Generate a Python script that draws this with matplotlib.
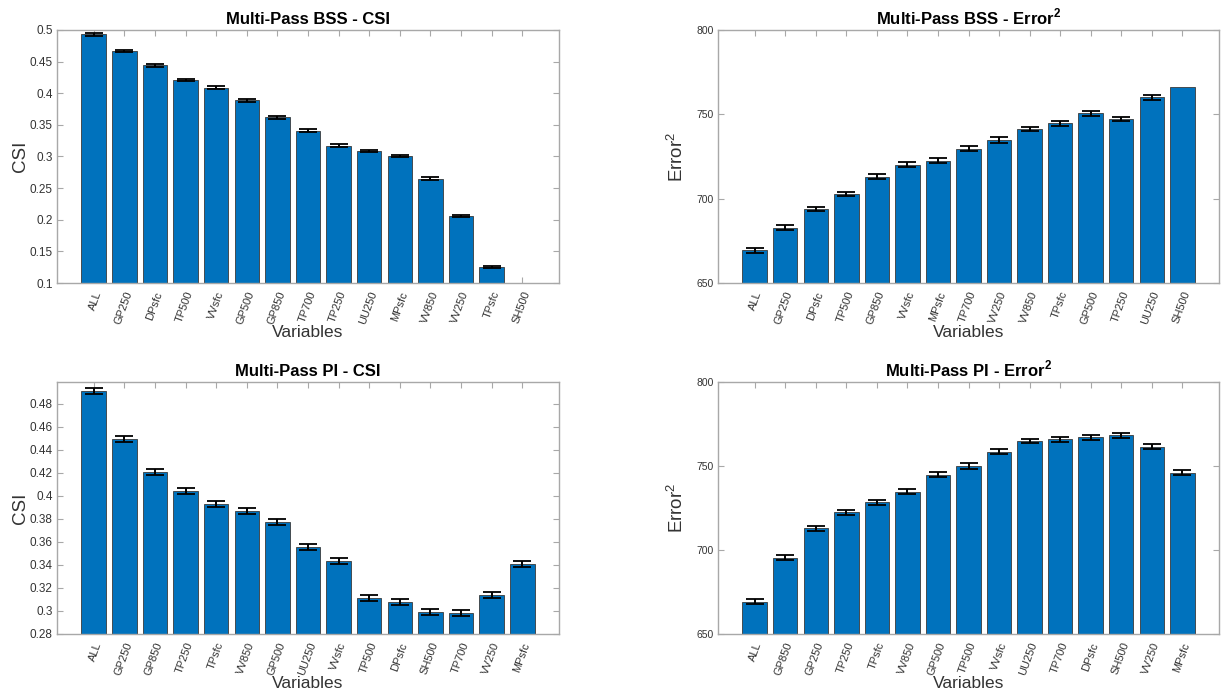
import numpy as np
import matplotlib
matplotlib.use('Agg')
import matplotlib.pyplot as plt

plt.rcParams['font.family'] = ['Liberation Sans', 'DejaVu Sans']
plt.rcParams['mathtext.fontset'] = 'custom'
plt.rcParams['mathtext.rm'] = 'Liberation Sans'
plt.rcParams['mathtext.bf'] = 'Liberation Sans:bold'

# Multi-Pass BSS - CSI
bss_csi_vars = ["ALL", "GP250", "DPsfc", "TP500", "VVsfc", "GP500", "GP850", "TP700",
                "TP250", "UU250", "MPsfc", "VV850", "VV250", "TPsfc", "SH500"]
bss_csi_vals = [0.493, 0.467, 0.444, 0.421, 0.409, 0.389, 0.362, 0.341,
                0.317, 0.309, 0.301, 0.265, 0.206, 0.126, 0.0]
bss_csi_err = [0.0025, 0.002, 0.0025, 0.002, 0.0025, 0.0025, 0.002, 0.002,
               0.002, 0.002, 0.002, 0.002, 0.002, 0.0015, 0.0]

# Multi-Pass BSS - Error^2
bss_err_vars = ["ALL", "GP250", "DPsfc", "TP500", "GP850", "VVsfc", "MPsfc", "TP700",
                "VV250", "VV850", "TPsfc", "GP500", "TP250", "UU250", "SH500"]
bss_err_vals = [669.3, 682.8, 693.8, 702.7, 713.0, 720.2, 722.6, 729.7,
                734.9, 741.3, 744.7, 750.6, 747.1, 760.0, 766.4]
bss_err_err = [1.6, 1.4, 1.4, 1.4, 1.5, 1.4, 1.5, 1.4,
               1.6, 1.4, 1.4, 1.3, 1.3, 1.3, 0.0]

# Multi-Pass PI - CSI
pi_csi_vars = ["ALL", "GP250", "GP850", "TP250", "TPsfc", "VV850", "GP500", "UU250",
               "VVsfc", "TP500", "DPsfc", "SH500", "TP700", "VV250", "MPsfc"]
pi_csi_vals = [0.4915, 0.4492, 0.4212, 0.4043, 0.393, 0.387, 0.3777, 0.3557,
               0.3438, 0.3116, 0.3078, 0.2993, 0.2986, 0.3142, 0.3412]
pi_csi_err = [0.0026, 0.0026, 0.0026, 0.0026, 0.0026, 0.0026, 0.0026, 0.0026,
              0.0026, 0.0026, 0.0026, 0.0026, 0.0026, 0.0026, 0.0026]

# Multi-Pass PI - Error^2
pi_err_vars = ["ALL", "GP850", "GP250", "TP250", "TPsfc", "VV850", "GP500", "TP500",
               "VVsfc", "UU250", "TP700", "DPsfc", "SH500", "VV250", "MPsfc"]
pi_err_vals = [669.1, 695.3, 713.0, 722.6, 728.3, 734.6, 744.7, 750.0,
               758.5, 764.8, 765.8, 767.0, 768.3, 761.6, 746.0]
pi_err_err = [1.5, 1.5, 1.5, 1.5, 1.5, 1.5, 1.5, 1.5,
              1.4, 1.3, 1.5, 1.4, 1.5, 1.4, 1.5]

BLUE = '#0072BD'
FRAME = '#a8a8a8'
TXT = '#333333'


def draw_panel(ax, names, vals, errs, title, ylabel, ylim, yticks, yfmt, ylab_x, tick_fs):
    x = np.arange(1, len(names) + 1)
    ax.bar(x, vals, width=0.8, color=BLUE, edgecolor='#3a3a3a', linewidth=0.6, zorder=2)
    errs = np.array(errs)
    m = errs > 0
    ax.errorbar(x[m], np.array(vals)[m], yerr=errs[m], fmt='none', ecolor='black',
                elinewidth=1.4, capsize=6.5, capthick=1.3, zorder=3)
    ax.set_xlim(-0.2, len(names) + 1.2)
    ax.set_ylim(*ylim)
    ax.set_yticks(yticks)
    ax.set_yticklabels([yfmt(v) for v in yticks], fontsize=tick_fs, color=TXT)
    ax.set_xticks(x)
    ax.set_xticklabels(names, rotation=70, ha='right', va='top', rotation_mode='anchor',
                       fontsize=8, color=TXT)
    ax.tick_params(direction='in', length=4, width=0.8, color=FRAME, top=True, right=True,
                   pad=3)
    ax.tick_params(axis='x', pad=5)
    for s in ax.spines.values():
        s.set_color(FRAME)
        s.set_linewidth(1.0)
    ax.set_title(title, fontsize=12, fontweight='bold', pad=4)
    ax.set_xlabel("Variables", fontsize=12.5, color=TXT, va='top')
    ax.xaxis.set_label_coords(0.5, -0.165)
    ax.set_ylabel(ylabel, fontsize=13.5, color=TXT)
    ax.yaxis.set_label_coords(ylab_x, 0.5)


def csi_fmt(v):
    return ('%.3f' % v).rstrip('0').rstrip('.')


fig = plt.figure(figsize=(12.21, 6.98), dpi=100)
W, H = 1221.0, 698.0
ax1 = fig.add_axes([57 / W, 1 - 283 / H, 502 / W, 253 / H])
ax2 = fig.add_axes([718 / W, 1 - 283 / H, 501 / W, 253 / H])
ax3 = fig.add_axes([57 / W, 1 - 634 / H, 502 / W, 252 / H])
ax4 = fig.add_axes([718 / W, 1 - 634 / H, 501 / W, 252 / H])

draw_panel(ax1, bss_csi_vars, bss_csi_vals, bss_csi_err, "Multi-Pass BSS - CSI", "CSI",
           (0.1, 0.5), np.arange(0.1, 0.501, 0.05), csi_fmt, -0.055, 8.5)
draw_panel(ax2, bss_err_vars, bss_err_vals, bss_err_err, r"Multi-Pass BSS - Error$^\mathbf{2}$",
           r"Error$^2$", (650, 800), [650, 700, 750, 800], lambda v: '%d' % v, -0.062, 7.5)
draw_panel(ax3, pi_csi_vars, pi_csi_vals, pi_csi_err, "Multi-Pass PI - CSI", "CSI",
           (0.28, 0.499), np.arange(0.28, 0.481, 0.02), csi_fmt, -0.055, 8.5)
draw_panel(ax4, pi_err_vars, pi_err_vals, pi_err_err, r"Multi-Pass PI - Error$^\mathbf{2}$",
           r"Error$^2$", (650, 800), [650, 700, 750, 800], lambda v: '%d' % v, -0.062, 7.5)

fig.savefig("out.png", dpi=100)
